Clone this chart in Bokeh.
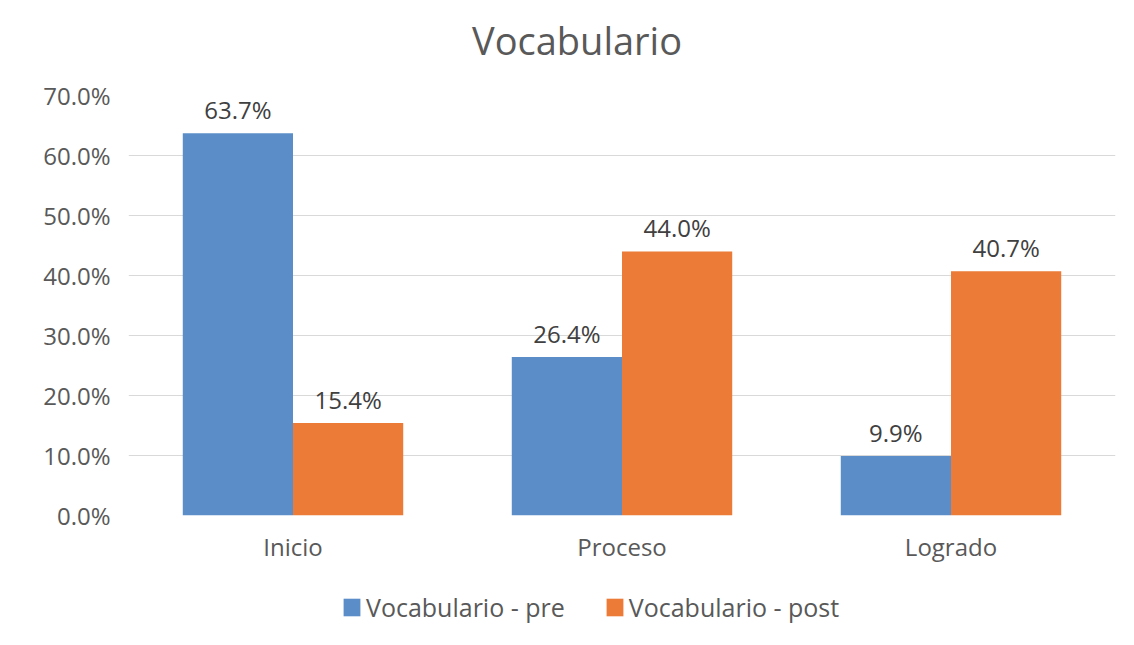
from bokeh.plotting import figure
from bokeh.layouts import column
from bokeh.models import (ColumnDataSource, FactorRange, Legend, LegendItem, LabelSet,
                          Range1d, CustomJSTickFormatter, Div)
from bokeh.core.properties import value
from bokeh.transform import dodge
from bokeh.embed import file_html
from bokeh.resources import INLINE

categories = ["Inicio", "Proceso", "Logrado"]
pre = [63.7, 26.4, 9.9]
post = [15.4, 44.0, 40.7]
series_names = ["Vocabulario - pre", "Vocabulario - post"]
y_ticks = [0, 10, 20, 30, 40, 50, 60, 70]
title_text = "Vocabulario"

FONT = "Open Sans"
TXT = "#595959"
BLUE = "#5B8EC9"
ORANGE = "#EB7B37"

src = ColumnDataSource(dict(
    cat=categories,
    pre=pre,
    post=post,
    pre_lbl=[f"{v:.1f}%" for v in pre],
    post_lbl=[f"{v:.1f}%" for v in post],
))

# chart title
title = Div(text=f'<div style="font-family:\'Open Sans\';font-size:38px;color:{TXT};'
                 f'margin-top:14px;margin-left:472px;line-height:normal;'
                 f'white-space:nowrap;">{title_text}</div>',
            width=1118, height=60, margin=0)

p = figure(width=1118, height=510, x_range=FactorRange(*categories),
           y_range=Range1d(0, 70), output_backend="svg", toolbar_location=None,
           min_border_left=128, min_border_right=3, min_border_top=35, min_border_bottom=55)

w = 0.335
p.vbar(x=dodge("cat", -w / 2, range=p.x_range), top="pre", width=w, source=src,
       fill_color=BLUE, line_color=None)
p.vbar(x=dodge("cat", w / 2, range=p.x_range), top="post", width=w, source=src,
       fill_color=ORANGE, line_color=None)

for col, lbl, off in (("pre", "pre_lbl", -w / 2), ("post", "post_lbl", w / 2)):
    ls = LabelSet(x=dodge("cat", off, range=p.x_range), y=col, text=lbl, source=src,
                  text_align="center", text_baseline="middle", y_offset=24,
                  text_font=value(FONT), text_font_size="24px", text_color="#404040")
    p.add_layout(ls)

p.xgrid.grid_line_color = None
p.ygrid.grid_line_color = "#d9d9d9"
p.ygrid.grid_line_width = 1
p.yaxis.ticker = y_ticks
p.yaxis.formatter = CustomJSTickFormatter(code="return tick.toFixed(1) + '%';")
for ax in (p.xaxis, p.yaxis):
    ax.axis_line_color = None
    ax.major_tick_line_color = None
    ax.minor_tick_line_color = None
    ax.major_tick_out = 0
    ax.major_tick_in = 0
    ax.major_label_text_font = FONT
    ax.major_label_text_font_size = "24px"
    ax.major_label_text_color = TXT
p.yaxis.major_label_standoff = 18
p.xaxis.major_label_standoff = 14
p.outline_line_color = None

# legend strip below the chart (its frame is aligned with the chart frame by the column);
# the renderers here only provide the legend swatches and draw nothing themselves
lf = figure(width=1118, height=59, x_range=p.x_range, y_range=Range1d(-2, -1),
            output_backend="svg", toolbar_location=None, x_axis_type=None, y_axis_type=None,
            min_border=0)
lf.grid.grid_line_color = None
lf.outline_line_color = None
d1 = lf.vbar(x="cat", top="pre", bottom="pre", width=0,
             source=src, fill_color=BLUE, line_color=None)
d2 = lf.vbar(x="cat", top="post", bottom="post", width=0,
             source=src, fill_color=ORANGE, line_color=None)
legend = Legend(items=[LegendItem(label=series_names[0], renderers=[d1]),
                       LegendItem(label=series_names[1], renderers=[d2])],
                orientation="horizontal", location=(213, 5),
                label_text_font=FONT, label_text_font_size="25px", label_text_color=TXT,
                glyph_width=21, glyph_height=22, spacing=39, label_standoff=4,
                border_line_color=None, background_fill_alpha=0, padding=4, margin=0)
lf.add_layout(legend)

layout = column(title, p, lf, spacing=0)
open("out.html", "w").write(file_html(layout, INLINE))
